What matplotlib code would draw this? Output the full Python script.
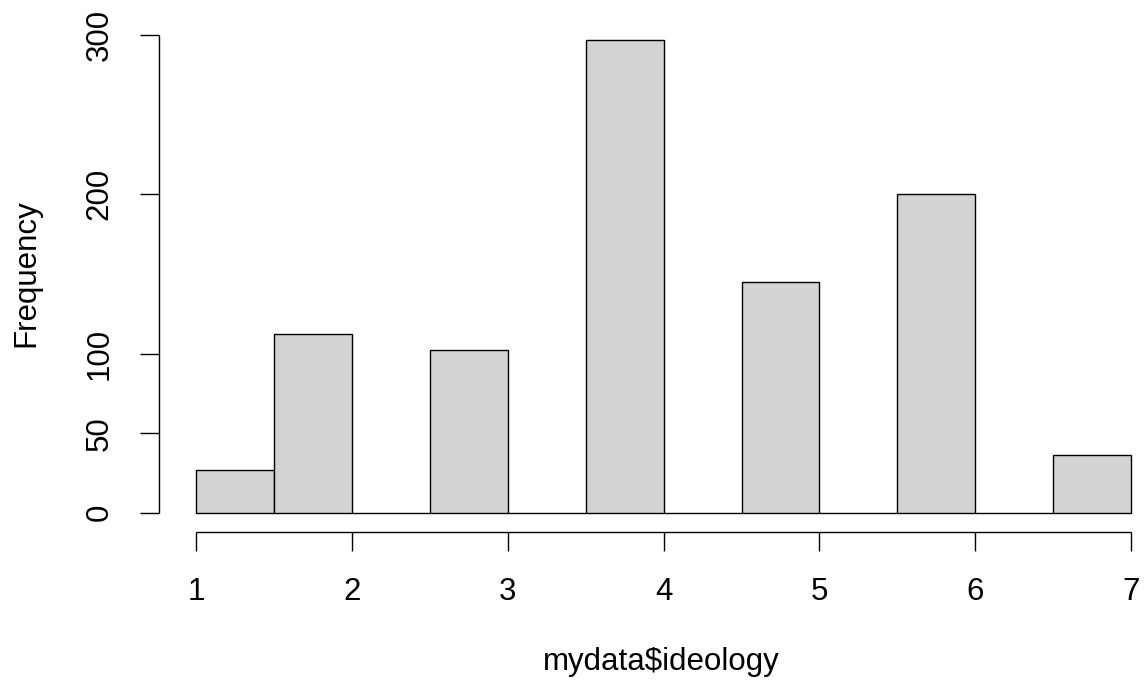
import matplotlib
matplotlib.use("Agg")
import matplotlib.pyplot as plt
import numpy as np

# Histogram of mydata$ideology (bin edges and counts)
bin_edges = [1.0, 1.5, 2.0, 2.5, 3.0, 3.5, 4.0, 4.5, 5.0, 5.5, 6.0, 6.5, 7.0]
counts = [27, 112, 0, 102, 0, 297, 0, 145, 0, 200, 0, 36]
x_ticks = [1, 2, 3, 4, 5, 6, 7]
y_ticks = [0, 50, 100, 200, 300]

plt.rcParams['font.family'] = ['Liberation Sans', 'DejaVu Sans']
W, H = 1144, 688
fig = plt.figure(figsize=(W / 100, H / 100), dpi=100)
FS = 22.5

# plot region in pixels
left_px, right_px = 159.0, 1168.4
top_px, bottom_px = 20.9, 531.7
ax = fig.add_axes([left_px / W, 1 - bottom_px / H,
                   (right_px - left_px) / W, (bottom_px - top_px) / H])

edges = np.array(bin_edges)
widths = np.diff(edges)
ax.bar(edges[:-1], counts, width=widths, align='edge',
       color='#D3D3D3', edgecolor='black', linewidth=1.0)

xr = edges[-1] - edges[0]
ax.set_xlim(edges[0] - 0.04 * xr, edges[-1] + 0.04 * xr)
ymax = max(counts)
ax.set_ylim(-0.04 * ymax, ymax * 1.04)

for s in ax.spines.values():
    s.set_visible(False)

# R-style axes lines
ax.plot([x_ticks[0], x_ticks[-1]], [ax.get_ylim()[0]] * 2, color='black',
        lw=1.0, clip_on=False, solid_capstyle='butt')
ax.plot([ax.get_xlim()[0]] * 2, [y_ticks[0], y_ticks[-1]], color='black',
        lw=1.0, clip_on=False, solid_capstyle='butt')

ax.set_xticks(x_ticks)
ax.set_xticklabels([str(t) for t in x_ticks])
ax.set_yticks(y_ticks)
ax.set_yticklabels([str(t) for t in y_ticks], rotation=90, va='center')
ax.tick_params(axis='both', direction='out', length=13.9, width=1.0,
               labelsize=FS, colors='black')
ax.tick_params(axis='x', pad=19)
ax.tick_params(axis='y', pad=18)

fig.text(661 / W, 1 - 662 / H, 'mydata$ideology', ha='center', va='center',
         fontsize=FS)
fig.text(26 / W, 1 - 273 / H, 'Frequency', ha='center', va='center',
         rotation=90, fontsize=FS)

fig.savefig('out.png', dpi=100, facecolor='white')
